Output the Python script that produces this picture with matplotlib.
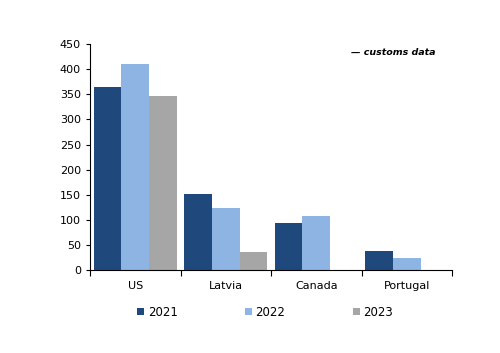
import matplotlib
matplotlib.use('Agg')
import matplotlib.pyplot as plt
import numpy as np

# values
countries = ['US', 'Latvia', 'Canada', 'Portugal']
years = ['2021', '2022', '2023']
v2021 = [365, 151, 93, 37]
v2022 = [410, 123, 108, 23]
v2023 = [347, 36, 0, 0]
colors = ['#1F497D', '#8DB4E2', '#A6A6A6']

plt.rcParams['font.family'] = 'DejaVu Sans'
fig = plt.figure(figsize=(5, 3.53), dpi=100)
ax = fig.add_axes([0.18, 0.235, 0.724, 0.64])

x = np.arange(len(countries))
w = 0.305
for i, (vals, c, yr) in enumerate(zip([v2021, v2022, v2023], colors, years)):
    ax.bar(x + (i - 1) * w, vals, width=w, color=c, label=yr)

ax.set_xlim(-0.5, len(countries) - 0.5)
ax.set_ylim(0, 450)
ax.set_yticks(np.arange(0, 451, 50))
ax.tick_params(axis='y', labelsize=8, length=3, direction='out')
# category labels between boundary ticks
ax.set_xticks(np.arange(-0.5, len(countries), 1.0))
ax.set_xticklabels([])
ax.tick_params(axis='x', length=4, direction='out')
ax.set_xticks(x, minor=True)
ax.set_xticklabels(countries, minor=True, fontsize=8)
ax.tick_params(axis='x', which='minor', length=0, pad=8)
ax.spines['top'].set_visible(False)
ax.spines['right'].set_visible(False)

ax.text(0.955, 0.985, '\u2014 customs data', transform=ax.transAxes, ha='right',
        va='top', fontsize=6.8, style='italic', weight='semibold')

fig.legend(loc='center', bbox_to_anchor=(0.53, 0.116), ncol=3, frameon=False,
           fontsize=8.5, handlelength=0.6, handleheight=0.6, handletextpad=0.3,
           columnspacing=5.7)

fig.savefig('out.png', dpi=100)
